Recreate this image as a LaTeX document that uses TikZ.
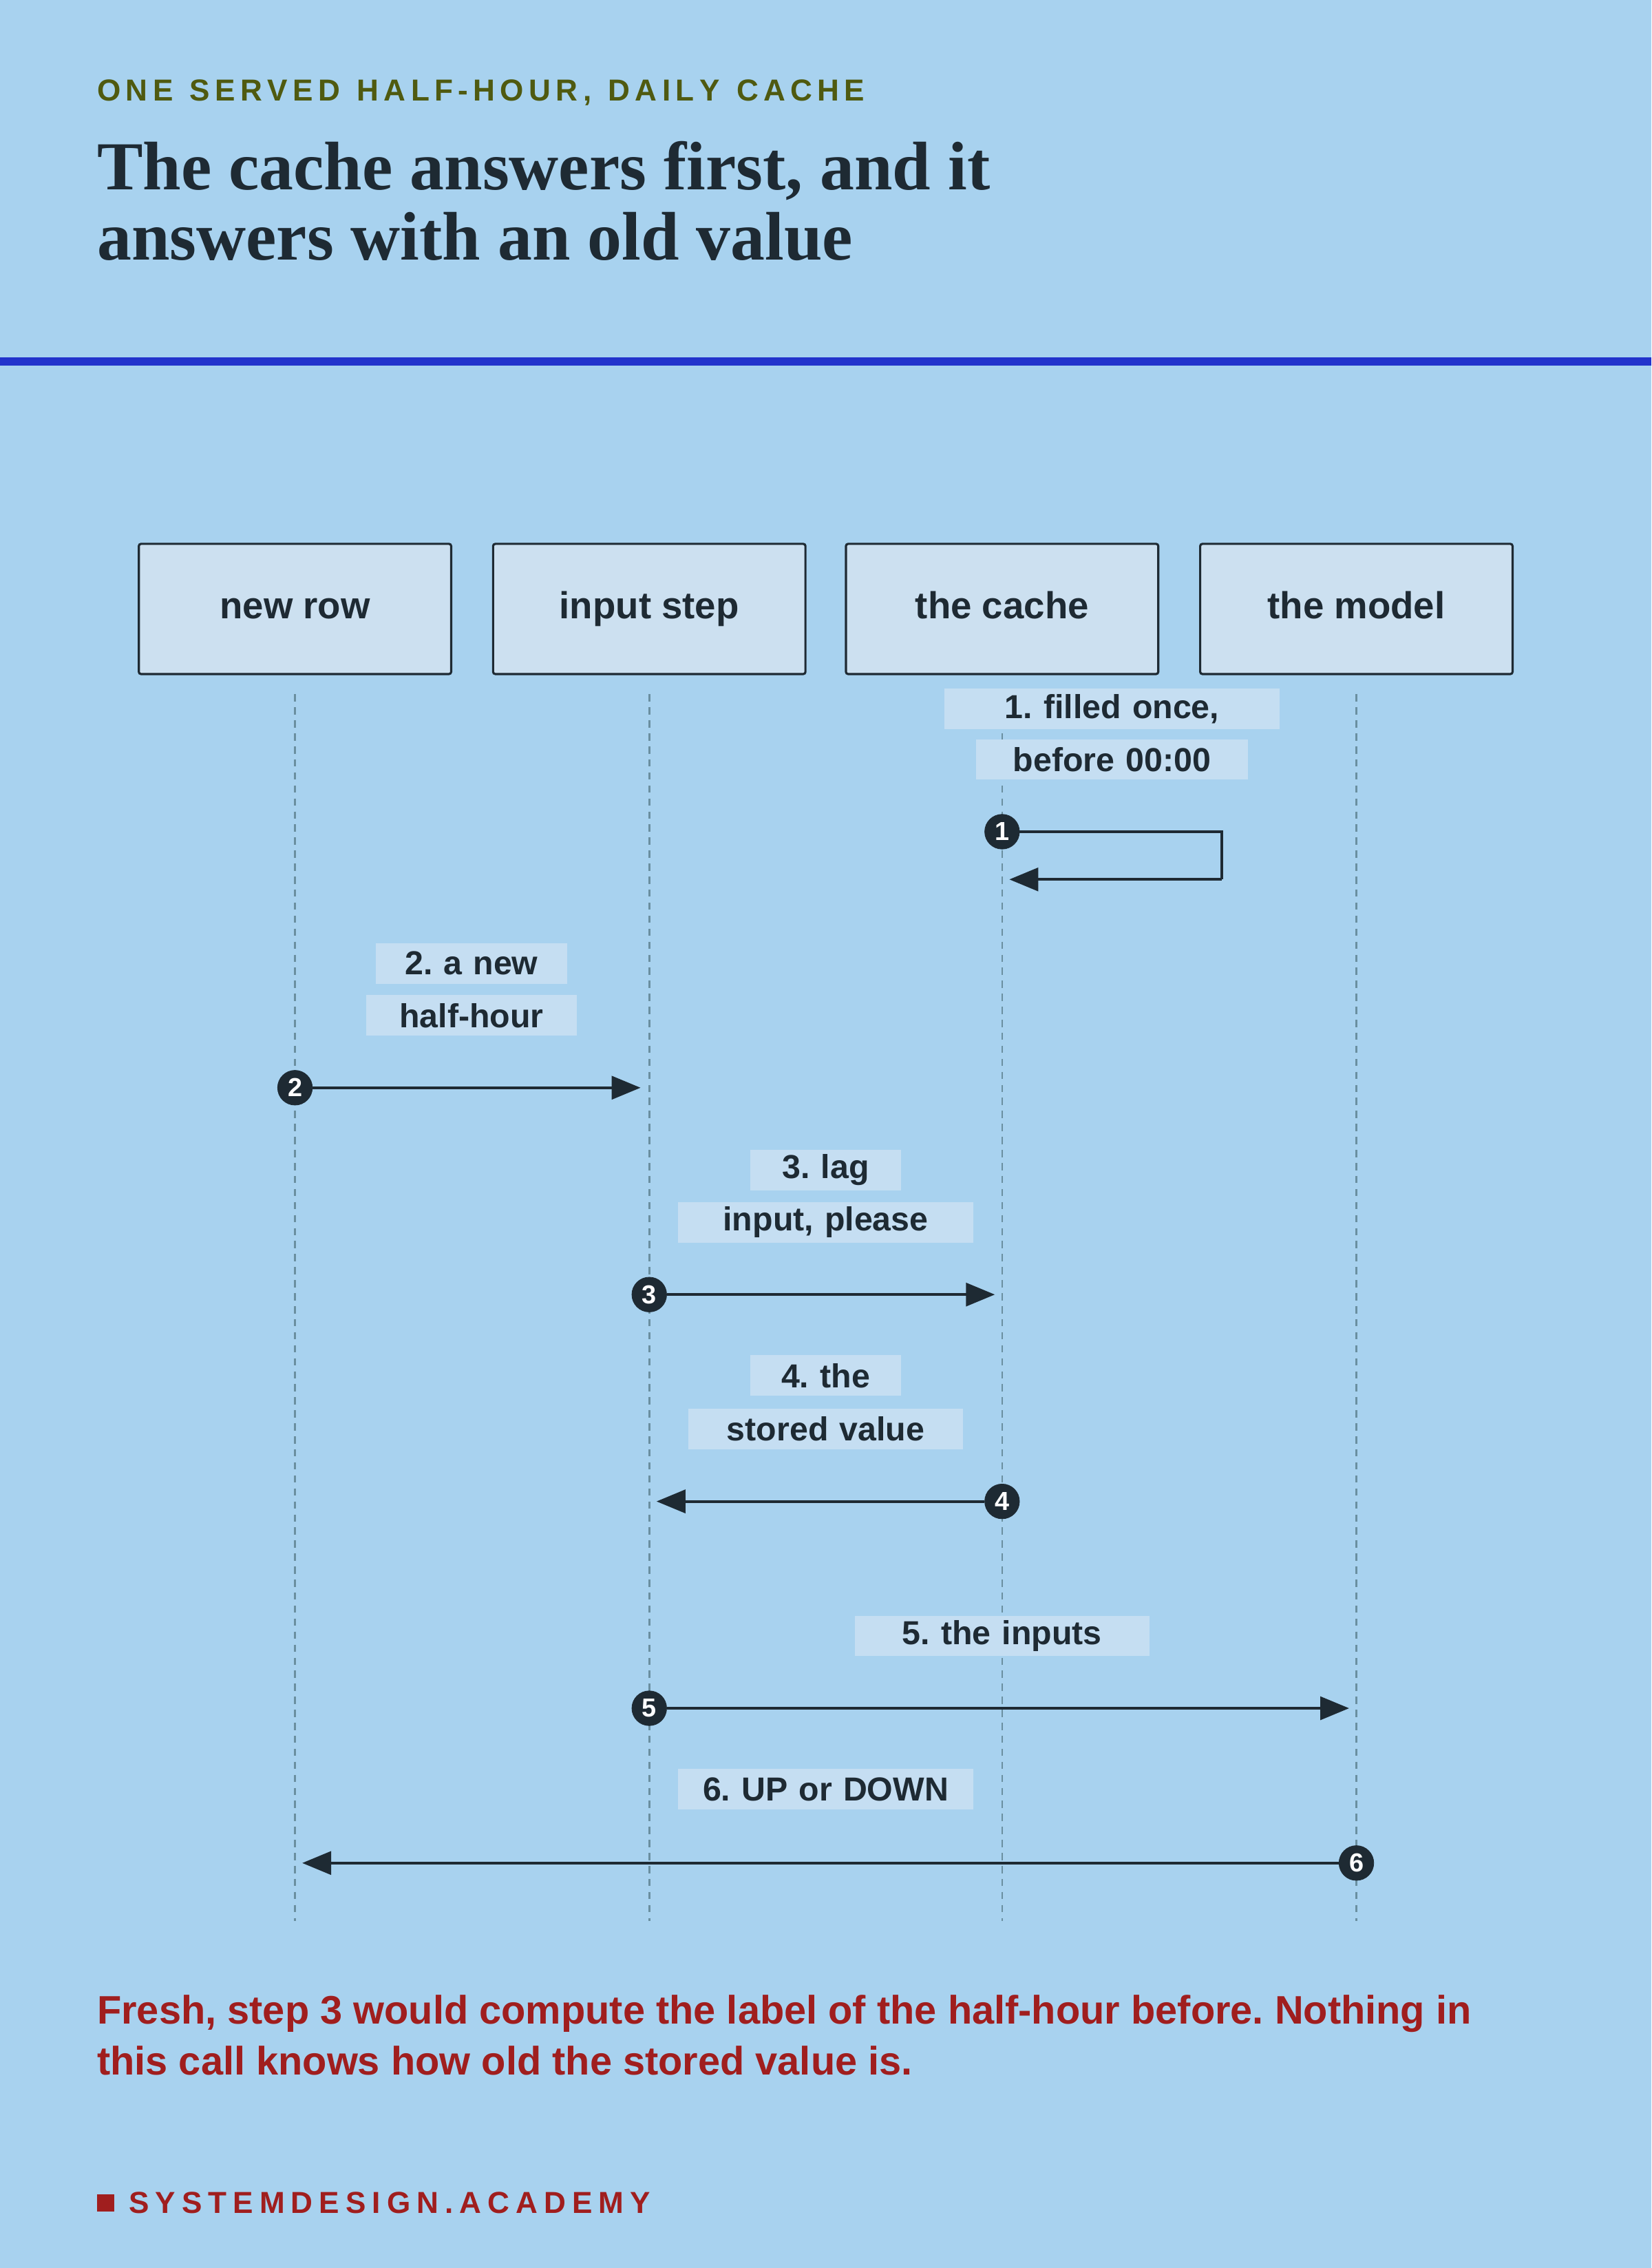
\documentclass[tikz,border=0pt]{standalone}
\usepackage{fontspec}
\setmainfont{Liberation Sans}
\newfontfamily\serifb{Liberation Serif}
\usetikzlibrary{arrows.meta}
\definecolor{bg}{HTML}{A8D2EF}
\definecolor{ink}{HTML}{1E2A33}
\definecolor{boxf}{HTML}{CCE0F0}
\definecolor{labf}{HTML}{C5DEF2}
\definecolor{olive}{HTML}{4F5A10}
\definecolor{rule}{HTML}{2233CC}
\definecolor{redt}{HTML}{A01E1E}
\definecolor{life}{HTML}{6A8FA0}
\frenchspacing
\def\k{\kern4.3pt}
\begin{document}
\begin{tikzpicture}[x=1pt,y=-1pt,
 actor/.style={draw=ink,line width=1.5pt,fill=boxf,minimum width=216pt,minimum height=90pt,rounded corners=1.5pt,text height=19pt,text depth=6pt,font=\fontsize{26}{30}\selectfont\bfseries,text=ink},
 lab/.style={fill=labf,inner sep=0pt,minimum height=28pt,text width=#1,align=center,font=\fontsize{23}{26}\selectfont\bfseries,text=ink},
 lab/.default=130pt,
 lifeline/.style={draw=life,line width=1.2pt,dash pattern=on 5pt off 4pt},
 msg/.style={draw=ink,line width=2pt,-{Triangle[length=20pt,width=16pt]}},
 num/.style={circle,fill=ink,draw=ink,inner sep=0pt,minimum size=24pt,text=white,font=\fontsize{18}{20}\selectfont\bfseries}]
\fill[bg] (0,0) rectangle (1142,1568);
\useasboundingbox (0,0) rectangle (1142,1568);
\node[anchor=west,inner sep=0pt,text=olive,font=\fontsize{21}{24}\selectfont\bfseries] (sub) at (67,64) {O\,N\,E\ \ S\,E\,R\,V\,E\,D\ \ H\,A\,L\,F\,-\,H\,O\,U\,R\,,\ \ D\,A\,I\,L\,Y\ \ C\,A\,C\,H\,E};
\node[anchor=west,inner sep=0pt,text=ink,align=left,font=\serifb\fontsize{47.5}{49}\selectfont\bfseries] (title) at (67,139) {The cache answers first, and it\\answers with an old value};
\fill[rule] (0,247) rectangle (1142,253);
\node[actor] (a1) at (204,421) {new row};
\node[actor] (a2) at (449,421) {input step};
\node[actor] (a3) at (693,421) {the cache};
\node[actor] (a4) at (938,421) {the model};
\foreach \i/\x in {1/204,2/449,3/693,4/938}{
 \coordinate (t\i) at (\x,480); \coordinate (b\i) at (\x,1328);
 \draw[lifeline] (t\i) -- (b\i);}
% step 1
\node[lab=232pt] (l1a) at (769,490) {1. filled once,};
\node[lab=188pt] (l1b) at (769,525) {before 00:00};
\node[num] (n1) at (693,575) {1};
\coordinate (c1) at (845,575); \coordinate (c2) at (845,608); \coordinate (c3) at (698,608);
\draw[msg,-] (n1) -- (c1) -- (c2);
\draw[msg] (c2) -- (c3);
% step 2
\node[lab=132pt] (l2a) at (326,666) {2. a new};
\node[lab=146pt] (l2b) at (326,702) {half-hour};
\node[num] (n2) at (204,752) {2};
\coordinate (e2) at (443,752);
\draw[msg] (n2) -- (e2);
% step 3
\node[lab=104pt] (l3a) at (571,809) {3. lag};
\node[lab=204pt] (l3b) at (571,845) {input, please};
\node[num] (n3) at (449,895) {3};
\coordinate (e3) at (688,895);
\draw[msg] (n3) -- (e3);
% step 4
\node[lab=104pt] (l4a) at (571,951) {4. the};
\node[lab=190pt] (l4b) at (571,988) {stored value};
\node[num] (n4) at (693,1038) {4};
\coordinate (e4) at (454,1038);
\draw[msg] (n4) -- (e4);
% step 5
\node[lab=204pt] (l5) at (693,1131) {5. the inputs};
\node[num] (n5) at (449,1181) {5};
\coordinate (e5) at (933,1181);
\draw[msg] (n5) -- (e5);
% step 6
\node[lab=204pt] (l6) at (571,1237) {6. UP or DOWN};
\node[num] (n6) at (938,1288) {6};
\coordinate (e6) at (209,1288);
\draw[msg] (n6) -- (e6);
% footer
\node[anchor=west,inner sep=0pt,text=redt,align=left,font=\fontsize{27.5}{35}\selectfont\bfseries] (foot) at (67,1407) {Fresh, step 3 would compute the label of the half-hour before. Nothing in\\this call knows how old the stored value is.};
\fill[redt] (67,1517) rectangle (79,1529);
\node[anchor=west,inner sep=0pt,text=redt,font=\fontsize{21}{24}\selectfont\bfseries] (brand) at (89,1523) {S\k Y\k S\k T\k E\k M\k D\k E\k S\k I\k G\k N\k .\k A\k C\k A\k D\k E\k M\k Y};
\end{tikzpicture}
\end{document}
